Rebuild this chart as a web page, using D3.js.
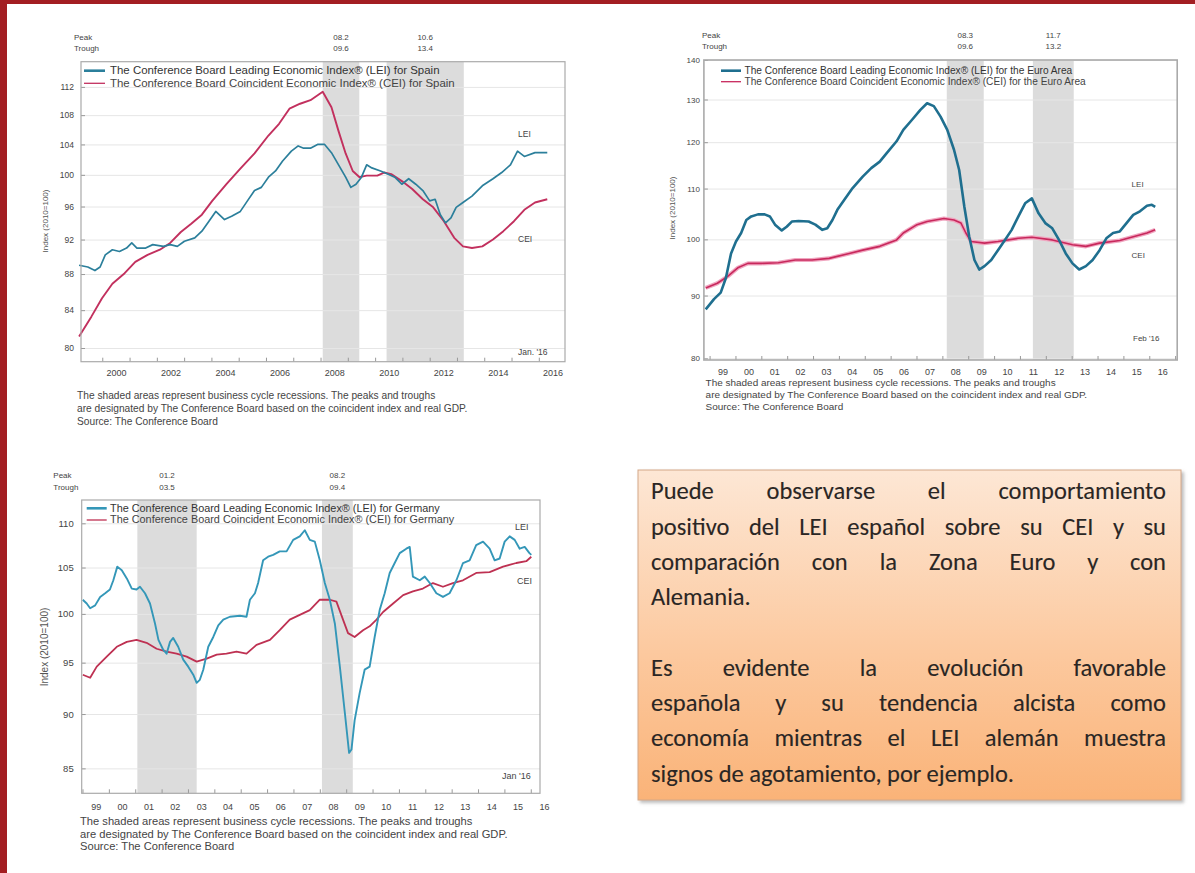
<!DOCTYPE html>
<html><head><meta charset="utf-8">
<script src="https://cdn.jsdelivr.net/npm/d3@7"></script>
<style>html,body{margin:0;padding:0;background:#fff;}svg{display:block;}</style>
</head><body>
<svg id="c" width="1195" height="873"></svg>
<script>
// ---------------- DATA ----------------
// Spain
const spainLeiYears = [1999.15,1999.47,1999.73,1999.92,2000.11,2000.37,2000.63,2000.89,2001.08,2001.27,2001.59,2001.85,2002.24,2002.49,2002.75,2003.01,2003.39,2003.65,2003.91,2004.16,2004.48,2004.74,2005.06,2005.32,2005.58,2005.83,2006.09,2006.35,2006.61,2006.93,2007.18,2007.38,2007.63,2007.89,2008.15,2008.40,2008.66,2008.92,2009.11,2009.30,2009.50,2009.69,2009.88,2010.20,2010.46,2010.72,2010.98,2011.23,2011.49,2011.75,2012.00,2012.20,2012.39,2012.58,2012.78,2012.97,2013.22,2013.55,2013.93,2014.32,2014.64,2014.96,2015.22,2015.47,2015.86,2016.31];
const spainLei = [89.0,88.8,88.4,88.8,90.2,90.8,90.6,91.0,91.6,91.0,91.0,91.4,91.2,91.4,91.2,91.8,92.2,93.0,94.2,95.4,94.4,94.8,95.4,96.7,98.0,98.4,99.7,100.5,101.8,103.1,103.8,103.5,103.5,104.0,104.0,102.9,101.3,99.7,98.4,98.8,99.7,101.3,100.9,100.5,100.1,99.7,98.8,99.5,98.8,98.0,96.7,96.9,95.0,94.0,94.6,95.9,96.5,97.3,98.6,99.5,100.3,101.3,103.1,102.4,102.9,102.9];
const spainCeiYears = [1999.15,1999.60,1999.99,2000.37,2000.82,2001.21,2001.66,2002.11,2002.49,2002.88,2003.26,2003.65,2004.03,2004.55,2005.06,2005.58,2006.09,2006.48,2006.86,2007.25,2007.63,2008.08,2008.40,2008.66,2008.92,2009.18,2009.43,2009.69,2010.08,2010.33,2010.59,2010.98,2011.36,2011.75,2012.13,2012.52,2012.90,2013.22,2013.55,2013.93,2014.32,2014.70,2015.09,2015.47,2015.86,2016.31];
const spainCei = [81.2,83.3,85.3,86.9,88.1,89.4,90.2,90.8,91.6,92.9,93.9,95.0,96.7,98.8,100.8,102.8,105.2,106.8,108.9,109.6,110.1,111.3,109.1,105.8,102.8,100.5,99.7,99.9,99.9,100.3,100.1,99.2,98.2,96.9,95.9,94.2,92.2,91.2,91.0,91.2,92.0,93.0,94.2,95.6,96.5,96.9];
const spainRecessions = [[2008.08,2009.42],[2010.42,2013.25]];
const spainPeaks = ["08.2","10.6"];
const spainTroughs = ["09.6","13.4"];
const spainYTicks = [80,84,88,92,96,100,104,108,112];
const spainXLabels = ["2000","2002","2004","2006","2008","2010","2012","2014","2016"];

// Euro Area
const euroLeiYears = [1998.85,1999.17,1999.43,1999.63,1999.83,2000.02,2000.22,2000.42,2000.61,2000.87,2001.13,2001.33,2001.53,2001.79,2001.98,2002.18,2002.44,2002.83,2003.09,2003.36,2003.55,2003.75,2003.94,2004.21,2004.53,2004.92,2005.25,2005.58,2005.84,2006.23,2006.49,2006.82,2007.15,2007.41,2007.67,2007.93,2008.19,2008.45,2008.65,2008.85,2009.04,2009.24,2009.43,2009.63,2009.89,2010.15,2010.42,2010.68,2010.94,2011.20,2011.46,2011.72,2011.98,2012.25,2012.51,2012.77,2013.03,2013.29,2013.55,2013.81,2014.08,2014.34,2014.60,2014.86,2015.12,2015.38,2015.64,2015.91,2016.10,2016.23];
const euroLei = [87.7,89.4,90.5,93.0,97.4,99.6,101.2,103.7,104.4,104.8,104.8,104.4,102.8,101.7,102.4,103.4,103.5,103.4,102.8,101.8,102.1,103.7,105.7,107.7,110.1,112.5,114.3,115.7,117.5,120.2,122.8,125.1,127.5,129.1,128.4,125.9,122.8,118.3,113.9,106.3,100.5,96.2,94.5,95.1,96.2,98.0,99.9,101.8,104.4,107.0,108.0,105.0,103.1,102.1,99.9,97.4,95.6,94.5,95.1,96.2,98.0,100.2,101.2,101.5,103.1,104.7,105.4,106.5,106.7,106.3];
const euroCeiYears = [1998.85,1999.30,1999.70,2000.09,2000.48,2001.00,2001.66,2002.31,2002.96,2003.62,2004.40,2004.92,2005.58,2006.23,2006.49,2007.02,2007.41,2008.06,2008.45,2008.72,2008.91,2009.11,2009.63,2010.15,2010.94,2011.46,2012.25,2013.03,2013.55,2014.08,2014.86,2015.38,2015.91,2016.23];
const euroCei = [91.3,92.1,93.3,94.8,95.6,95.6,95.7,96.2,96.2,96.5,97.4,98.0,98.7,99.9,101.2,102.8,103.4,104.0,103.7,103.1,101.2,99.6,99.3,99.6,100.2,100.4,99.9,99.0,98.7,99.3,99.8,100.5,101.2,101.8];
const euroRecessions = [[2008.17,2009.6],[2011.5,2013.08]];
const euroPeaks = ["08.3","11.7"];
const euroTroughs = ["09.6","13.2"];
const euroYTicks = [80,90,100,110,120,130,140];
const euroXLabels = ["99","00","01","02","03","04","05","06","07","08","09","10","11","12","13","14","15","16"];

// Germany
const germanyLeiYears = [1999.01,1999.16,1999.29,1999.48,1999.67,1999.86,2000.04,2000.17,2000.32,2000.49,2000.68,2000.87,2001.05,2001.18,2001.37,2001.56,2001.75,2001.88,2002.06,2002.19,2002.32,2002.44,2002.63,2002.82,2003.01,2003.20,2003.33,2003.45,2003.58,2003.77,2003.96,2004.15,2004.34,2004.59,2004.97,2005.22,2005.35,2005.54,2005.66,2005.85,2006.04,2006.23,2006.48,2006.74,2006.99,2007.24,2007.43,2007.62,2007.81,2008.00,2008.19,2008.38,2008.57,2008.76,2008.95,2009.11,2009.20,2009.32,2009.51,2009.70,2009.89,2010.08,2010.27,2010.46,2010.65,2010.84,2011.03,2011.28,2011.41,2011.53,2011.79,2011.98,2012.17,2012.42,2012.67,2012.92,2013.18,2013.43,2013.68,2013.93,2014.19,2014.44,2014.63,2014.82,2015.01,2015.20,2015.39,2015.58,2015.77,2015.95,2016.02];
const germanyLei = [101.5,101.1,100.6,100.9,101.8,102.2,102.6,103.6,105.1,104.7,103.8,102.7,102.6,102.9,102.2,101.1,99.0,97.3,96.3,95.9,97.1,97.5,96.6,95.3,94.6,93.8,93.0,93.3,94.3,96.6,97.6,98.8,99.4,99.7,99.8,99.7,101.5,102.2,103.3,105.8,106.2,106.4,106.8,106.8,108.1,108.5,109.2,108.1,107.9,105.8,103.3,101.5,99.0,94.6,90.1,86.4,86.7,89.4,92.0,94.3,94.6,97.6,100.4,102.2,104.4,105.5,106.6,107.1,107.3,104.0,103.6,104.0,103.3,102.2,101.8,102.2,103.6,105.5,105.8,107.5,107.9,107.1,105.8,106.0,107.9,108.5,108.1,107.1,107.3,106.6,106.4];
const germanyCeiYears = [1999.01,1999.29,1999.54,1999.92,2000.30,2000.68,2001.05,2001.43,2001.81,2002.19,2002.57,2002.95,2003.33,2003.71,2004.09,2004.46,2004.84,2005.22,2005.60,2006.11,2006.48,2006.86,2007.24,2007.62,2008.00,2008.38,2008.63,2008.88,2009.07,2009.32,2009.64,2009.89,2010.15,2010.40,2010.78,2011.16,2011.53,2011.91,2012.29,2012.67,2013.05,2013.43,2013.93,2014.44,2014.95,2015.45,2015.83,2016.02];
const germanyCei = [93.8,93.5,94.6,95.6,96.6,97.1,97.3,97.0,96.4,96.1,95.9,95.6,95.1,95.4,95.8,95.9,96.1,95.9,96.8,97.3,98.3,99.4,99.9,100.4,101.5,101.5,101.3,99.4,98.0,97.6,98.3,98.7,99.4,100.2,101.1,102.0,102.4,102.7,103.3,102.9,103.3,103.6,104.4,104.5,105.1,105.5,105.7,106.2];
const germanyRecessions = [[2001.08,2003.33],[2008.08,2009.25]];
const germanyPeaks = ["01.2","08.2"];
const germanyTroughs = ["03.5","09.4"];
const germanyYTicks = [85,90,95,100,105,110];
const germanyXLabels = ["99","00","01","02","03","04","05","06","07","08","09","10","11","12","13","14","15","16"];

const notesLines = ["The shaded areas represent business cycle recessions. The peaks and troughs",
  "are designated by The Conference Board based on the coincident index and real GDP.",
  "Source: The Conference Board"];

const boxLines = ["Puede observarse el comportamiento","positivo del LEI español sobre su CEI y su","comparación con la Zona Euro y con","Alemania.","","Es evidente la evolución favorable","española y su tendencia alcista como","economía mientras el LEI alemán muestra","signos de agotamiento, por ejemplo."];
const boxJustify = [true,true,true,false,false,true,true,true,false];

// ---------------- DRAWING ----------------
const FONT = "'Liberation Sans', Arial, Helvetica, sans-serif";
const svg = d3.select('#c');
svg.append('rect').attr('width',1195).attr('height',873).attr('fill','#fff');
svg.append('rect').attr('x',0).attr('y',0).attr('width',7).attr('height',873).attr('fill','#a31e22');
svg.append('rect').attr('x',0).attr('y',0).attr('width',1195).attr('height',4).attr('fill','#a31e22');

function fit(sel, w) {
  const cur = parseFloat(sel.attr('font-size'));
  const m = sel.node().getComputedTextLength();
  if (m > 0) sel.attr('font-size', cur * w / m);
  return sel;
}
function labelYear(s) { const n = +s; return (s.length === 4 ? n : (n >= 90 ? 1900 + n : 2000 + n)) + 0.5; }

function drawChart(c) {
  const g = svg.append('g');
  const x = d3.scaleLinear().domain(c.xDomain).range([c.left, c.right]);
  const y = d3.scaleLog().domain(c.yDomain).range([c.bottom, c.top]);
  const W = c.right - c.left;

  g.append('g').selectAll('rect').data(c.recessions).join('rect')
    .attr('x', d => x(d[0])).attr('width', d => x(d[1]) - x(d[0]))
    .attr('y', c.top).attr('height', c.bottom - c.top).attr('fill', '#dcdcdc');

  g.append('g').attr('transform', `translate(${c.left},0)`)
    .call(d3.axisLeft(y).tickValues(c.yTicks).tickSize(-W).tickFormat(''))
    .call(s => { s.select('.domain').remove(); s.selectAll('line').attr('stroke', '#e6e6e6'); });

  g.append('g').attr('transform', `translate(${c.left},0)`)
    .call(d3.axisLeft(y).tickValues(c.yTicks).tickSizeInner(-4).tickSizeOuter(0).tickPadding(c.yPad).tickFormat(d3.format('d')))
    .call(s => { s.select('.domain').remove(); s.selectAll('line').attr('stroke', '#999');
      s.selectAll('text').attr('font-size', c.tickFs).attr('fill', '#444').attr('font-family', FONT); });

  const yearTicks = d3.range(Math.ceil(c.xDomain[0]), Math.floor(c.xDomain[1]) + 1);
  g.append('g').attr('transform', `translate(0,${c.bottom})`)
    .call(d3.axisBottom(x).tickValues(yearTicks).tickSizeInner(-4).tickSizeOuter(0).tickFormat(''))
    .call(s => { s.select('.domain').remove(); s.selectAll('line').attr('stroke', '#999'); });

  g.append('g').attr('transform', `translate(0,${c.bottom})`)
    .call(d3.axisBottom(x).tickValues(c.xLabels.map(labelYear)).tickSize(0).tickPadding(c.xPad).tickFormat((d, i) => c.xLabels[i]))
    .call(s => { s.select('.domain').remove();
      s.selectAll('text').attr('font-size', c.xFs).attr('fill', '#444').attr('font-family', FONT); });

  const line = d3.line().x(d => x(d[0])).y(d => y(d[1]));
  if (c.ceiGlow) g.append('path').datum(d3.zip(c.ceiYears, c.cei)).attr('d', line)
    .attr('fill', 'none').attr('stroke', c.ceiGlow).attr('stroke-width', c.ceiW + 2.5).attr('stroke-linejoin', 'round');
  g.append('path').datum(d3.zip(c.ceiYears, c.cei)).attr('d', line)
    .attr('fill', 'none').attr('stroke', c.ceiColor).attr('stroke-width', c.ceiW).attr('stroke-linejoin', 'round');
  g.append('path').datum(d3.zip(c.leiYears, c.lei)).attr('d', line)
    .attr('fill', 'none').attr('stroke', c.leiColor).attr('stroke-width', c.leiW).attr('stroke-linejoin', 'round');

  g.append('rect').attr('x', c.left).attr('y', c.top).attr('width', W).attr('height', c.bottom - c.top)
    .attr('fill', 'none').attr('stroke', '#aaa').attr('stroke-width', c.frameW);

  // legend
  const lg = g.append('g');
  lg.append('line').attr('x1', c.leg.x1).attr('x2', c.leg.x2).attr('y1', c.leg.y1).attr('y2', c.leg.y1).attr('stroke', c.leiColor).attr('stroke-width', 2.6);
  lg.append('line').attr('x1', c.leg.x1).attr('x2', c.leg.x2).attr('y1', c.leg.y2).attr('y2', c.leg.y2).attr('stroke', c.ceiColor).attr('stroke-width', 1.3);
  const t1 = lg.append('text').attr('x', c.leg.tx).attr('y', c.leg.y1 + 3.3).attr('font-size', 10).attr('font-family', FONT).attr('fill', '#333').text(c.leg.lei);
  fit(t1, c.leg.w);
  lg.append('text').attr('x', c.leg.tx).attr('y', c.leg.y2 + 3.3).attr('font-size', t1.attr('font-size')).attr('font-family', FONT).attr('fill', '#444').text(c.leg.cei);

  // peak / trough header
  g.append('text').attr('x', c.pt.x).attr('y', c.pt.y1).attr('font-size', c.pt.fs).attr('font-family', FONT).attr('fill', '#444').text('Peak');
  g.append('text').attr('x', c.pt.x).attr('y', c.pt.y2).attr('font-size', c.pt.fs).attr('font-family', FONT).attr('fill', '#444').text('Trough');
  c.recessions.forEach((r, i) => {
    const mx = (x(r[0]) + x(r[1])) / 2;
    g.append('text').attr('x', mx).attr('y', c.pt.y1).attr('text-anchor', 'middle').attr('font-size', c.pt.fs).attr('font-family', FONT).attr('fill', '#444').text(c.peaks[i]);
    g.append('text').attr('x', mx).attr('y', c.pt.y2).attr('text-anchor', 'middle').attr('font-size', c.pt.fs).attr('font-family', FONT).attr('fill', '#444').text(c.troughs[i]);
  });

  // y title
  g.append('text').attr('transform', `translate(${c.yt.x},${c.yt.y}) rotate(-90)`).attr('text-anchor', 'middle')
    .attr('font-size', c.yt.fs).attr('font-family', FONT).attr('fill', '#555').text('Index (2010=100)');

  // end labels
  c.ends.forEach(e => g.append('text').attr('x', e.x).attr('y', e.y).attr('font-size', e.fs).attr('font-family', FONT).attr('fill', '#444').text(e.t));

  // notes
  const nt = notesLines.map((s, i) => g.append('text').attr('x', c.notes.x).attr('y', c.notes.y[i]).attr('font-size', 9).attr('font-family', FONT).attr('fill', '#444').text(s));
  fit(nt[1], c.notes.w);
  nt[0].attr('font-size', nt[1].attr('font-size'));
  nt[2].attr('font-size', nt[1].attr('font-size'));
}

drawChart({
  xDomain: [1999.22, 2016.96], yDomain: [78.6, 115.7], left: 81, right: 565, top: 61.7, bottom: 361.7,
  recessions: spainRecessions, peaks: spainPeaks, troughs: spainTroughs, yTicks: spainYTicks, xLabels: spainXLabels,
  leiYears: spainLeiYears, lei: spainLei, ceiYears: spainCeiYears, cei: spainCei,
  leiColor: '#2b7f9b', ceiColor: '#c2305e', leiW: 1.7, ceiW: 1.9, frameW: 1.2,
  yPad: 7, tickFs: 8.5, xPad: 8, xFs: 9,
  leg: { x1: 84, x2: 105, y1: 70.7, y2: 83.3, tx: 110, w: 330,
    lei: 'The Conference Board Leading Economic Index® (LEI) for Spain',
    cei: 'The Conference Board Coincident Economic Index® (CEI) for Spain' },
  pt: { x: 74, y1: 39.5, y2: 50.5, fs: 8 },
  yt: { x: 48, y: 221, fs: 8 },
  ends: [{ t: 'LEI', x: 518, y: 136.5, fs: 8.5 }, { t: 'CEI', x: 518, y: 242, fs: 8.5 }, { t: "Jan. '16", x: 518, y: 355, fs: 8.5 }],
  notes: { x: 77, y: [399, 412.3, 424.7], w: 391 }
});

drawChart({
  xDomain: [1998.78, 2017.08], yDomain: [79.75, 140], left: 703.9, right: 1177.2, top: 60, bottom: 360,
  recessions: euroRecessions, peaks: euroPeaks, troughs: euroTroughs, yTicks: euroYTicks, xLabels: euroXLabels,
  leiYears: euroLeiYears, lei: euroLei, ceiYears: euroCeiYears, cei: euroCei,
  leiColor: '#1f6f8f', ceiColor: '#c8285c', ceiGlow: '#f0a6c0', leiW: 2.6, ceiW: 1.6, frameW: 1.6,
  yPad: 4, tickFs: 8, xPad: 8.5, xFs: 9,
  leg: { x1: 721, x2: 741, y1: 70.7, y2: 81.7, tx: 744.5, w: 328,
    lei: 'The Conference Board Leading Economic Index® (LEI) for the Euro Area',
    cei: 'The Conference Board Coincident Economic Index® (CEI) for the Euro Area' },
  pt: { x: 702, y1: 38, y2: 49, fs: 8 },
  yt: { x: 675, y: 208, fs: 8 },
  ends: [{ t: 'LEI', x: 1131.6, y: 187.3, fs: 8 }, { t: 'CEI', x: 1131.6, y: 258, fs: 8 }, { t: "Feb '16", x: 1133, y: 341, fs: 8 }],
  notes: { x: 705.6, y: [386, 398, 409.7], w: 382 }
});

drawChart({
  xDomain: [1998.97, 2016.35], yDomain: [82.8, 112.73], left: 81.7, right: 540, top: 500, bottom: 793.3,
  recessions: germanyRecessions, peaks: germanyPeaks, troughs: germanyTroughs, yTicks: germanyYTicks, xLabels: germanyXLabels,
  leiYears: germanyLeiYears, lei: germanyLei, ceiYears: germanyCeiYears, cei: germanyCei,
  leiColor: '#3497b8', ceiColor: '#be3152', leiW: 1.9, ceiW: 1.8, frameW: 1.2,
  yPad: 8, tickFs: 9.5, xPad: 10, xFs: 9,
  leg: { x1: 86.7, x2: 106.7, y1: 508.3, y2: 520, tx: 110, w: 330,
    lei: 'The Conference Board Leading Economic Index® (LEI) for Germany',
    cei: 'The Conference Board Coincident Economic Index® (CEI) for Germany' },
  pt: { x: 53.3, y1: 478, y2: 489.7, fs: 8 },
  yt: { x: 48, y: 647, fs: 10 },
  ends: [{ t: 'LEI', x: 515, y: 529.5, fs: 9 }, { t: 'CEI', x: 517, y: 583.5, fs: 9 }, { t: "Jan '16", x: 502, y: 778.5, fs: 9 }],
  notes: { x: 80, y: [825, 838.3, 850], w: 428 }
});

// ---------------- TEXT BOX ----------------
const defs = svg.append('defs');
const grad = defs.append('linearGradient').attr('id', 'boxg').attr('x1', 0).attr('y1', 0).attr('x2', 0).attr('y2', 1);
grad.append('stop').attr('offset', '0%').attr('stop-color', '#fde7d5');
grad.append('stop').attr('offset', '55%').attr('stop-color', '#fcc99f');
grad.append('stop').attr('offset', '100%').attr('stop-color', '#fab378');
const filt = defs.append('filter').attr('id', 'sh').attr('x', '-5%').attr('y', '-5%').attr('width', '115%').attr('height', '115%');
filt.append('feDropShadow').attr('dx', 2.5).attr('dy', 2.5).attr('stdDeviation', 1.8).attr('flood-color', '#888').attr('flood-opacity', 0.55);

const box = { x: 638, y: 470, w: 543, h: 330, tx: 651, tw: 515, base0: 499.3, lh: 35.3 };
svg.append('rect').attr('x', box.x).attr('y', box.y).attr('width', box.w).attr('height', box.h)
  .attr('fill', 'url(#boxg)').attr('stroke', '#d4a888').attr('stroke-width', 1).attr('filter', 'url(#sh)');

const BFONT = "Carlito, Calibri, Lato, 'Open Sans', sans-serif";
const bfs = 24.5;
const probe = svg.append('text').attr('font-family', BFONT).attr('font-size', bfs).attr('visibility', 'hidden');
let maxW = 0;
boxLines.forEach((s, i) => { if (boxJustify[i]) { probe.text(s); maxW = Math.max(maxW, probe.node().getComputedTextLength()); } });
probe.text('a a'); const w1 = probe.node().getComputedTextLength();
probe.text('aa'); const w2 = probe.node().getComputedTextLength();
const spaceW = w1 - w2;
probe.remove();
const sx = Math.min(1, (box.tw - 6) / maxW);
const availW = box.tw / sx;

boxLines.forEach((s, i) => {
  if (!s) return;
  const t = svg.append('text')
    .attr('transform', `translate(${box.tx},${box.base0 + i * box.lh}) scale(${sx},1)`)
    .attr('font-family', BFONT).attr('font-size', bfs).attr('fill', '#2a2624')
    .attr('stroke', '#2a2624').attr('stroke-width', 0.12);
  const words = s.split(' ');
  const spans = words.map(wd => t.append('tspan').text(wd));
  const widths = spans.map(sp => sp.node().getComputedTextLength());
  const sum = d3.sum(widths);
  const gap = boxJustify[i] && words.length > 1 ? (availW - sum) / (words.length - 1) : spaceW;
  let cx = 0;
  spans.forEach((sp, k) => { sp.attr('x', cx); cx += widths[k] + gap; });
});
</script>
</body></html>
